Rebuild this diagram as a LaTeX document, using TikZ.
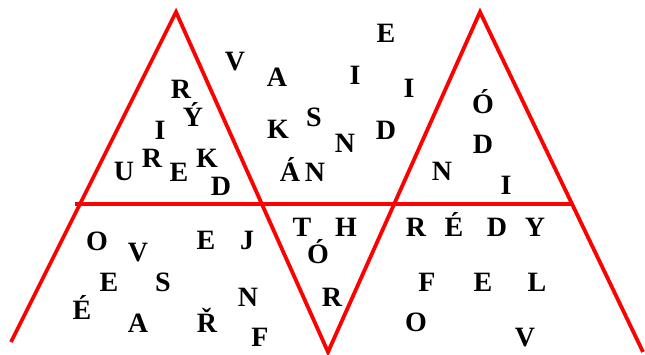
\documentclass[tikz,border=0pt]{standalone}
\usepackage{fontspec}
\setmainfont{Liberation Serif}
\begin{document}
\begin{tikzpicture}[x=1pt,y=-1pt,
  letter/.style={anchor=base,inner sep=0pt,font=\fontsize{28}{28}\selectfont\bfseries},
  redline/.style={draw=red,line width=3.8pt,line join=miter}]
\useasboundingbox (0,0) rectangle (645,355);
% geometry
\coordinate (bl) at (11,342);
\coordinate (a1) at (176,12);
\coordinate (v) at (328,352);
\coordinate (a2) at (480,12);
\coordinate (br) at (643,352);
\coordinate (hl) at (75,204);
\coordinate (hr) at (572,204);
\draw[redline] (bl) -- (a1) -- (v) -- (a2) -- (br);
\draw[redline] (hl) -- (hr);
% letters (x, baseline)
\def\bs{9.3}
\foreach \n/\x/\y/\t in {
 l1/181/89/R, l2/193/117/Ý, l3/160/130/I, l4/124/171/U, l5/152/158/R,
 l6/179/172/E, l7/207/158/K, l8/221/186/D,
 m1/235/61/V, m2/277/77/A, m3/314/117/S, m4/278/129/K, m5/290/172/Á,
 m6/315/172/N, m7/386/33/E, m8/355/75/I, m9/409/88/I, m10/345/143/N,
 m11/386/130/D,
 r1/483/104/Ó, r2/483/144/D, r3/442/171/N, r4/506/185/I,
 b1/97/241/O, b2/138/252/V, b3/206/240/E, b4/247/240/J, b5/109/282/E,
 b6/163/282/S, b7/248/297/N, b8/82/310/É, b9/138/323/A, b10/207/323/Ř,
 b11/260/337/F,
 t1/302/227/T, t2/346/227/H, t3/318/254/Ó, t4/332/297/R,
 c1/416/227/R, c2/454/227/É, c3/497/227/D, c4/535/227/Y,
 c5/427/282/F, c6/483/282/E, c7/537/282/L, c8/416/322/O, c9/525/337/V}
 \node[letter] (\n) at (\x,\y+\bs) {\t};
\end{tikzpicture}
\end{document}
